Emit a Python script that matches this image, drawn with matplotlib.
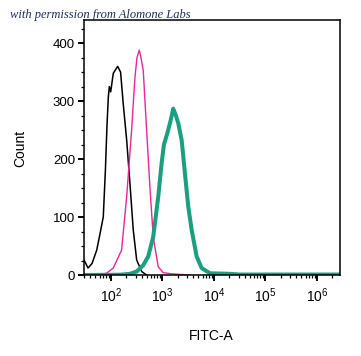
import numpy as np
import matplotlib
matplotlib.use('Agg')
import matplotlib.pyplot as plt
from matplotlib.ticker import LogLocator, NullFormatter, MultipleLocator

plt.rcParams['font.family'] = ['Liberation Sans', 'DejaVu Sans']
plt.rcParams['mathtext.fontset'] = 'custom'
plt.rcParams['mathtext.rm'] = 'Liberation Sans'
plt.rcParams['mathtext.it'] = 'Liberation Sans'

# FITC-A intensity / count pairs
black_x = [30, 36, 43, 53, 61, 71, 78, 84, 89, 93, 99, 111, 135, 154, 173,
           202, 234, 271, 316, 395, 493]
black_y = [26, 12, 20, 43, 70, 100, 180, 260, 307, 325, 316, 348, 360, 350,
           296, 233, 158, 78, 26, 6, 0]

pink_x = [30, 61, 82, 111, 161, 202, 252, 292, 320, 355, 383, 424, 493, 571,
          662, 829, 1038, 1528, 2187, 3420]
pink_y = [0, 1, 3, 12, 43, 135, 250, 340, 375, 388, 375, 353, 250, 152, 66,
          14, 4, 2, 1, 0]

teal_x = [30, 150, 234, 316, 424, 530, 662, 829, 964, 1069, 1239, 1429, 1620,
          1829, 2027, 2360, 2735, 3170, 3690, 4610, 5770, 8360, 20500, 32000,
          2.8e6]
teal_y = [0, 0.5, 2, 6, 17, 32, 66, 135, 193, 225, 244, 265, 287, 275, 262,
          233, 175, 118, 78, 32, 12, 3, 2, 0.8, 0.8]

xticks = [1e2, 1e3, 1e4, 1e5, 1e6]
xticklabels = ['$10^2$', '$10^3$', '$10^4$', '$10^5$', '$10^6$']
yticks = [0, 100, 200, 300, 400]

fig = plt.figure(figsize=(3.61, 3.56), dpi=100)
ax = fig.add_axes([84/361, 1-275/356, 256/361, 255/356])

ax.plot(black_x, black_y, color='black', lw=1.1)
ax.plot(pink_x, pink_y, color='#e8259a', lw=1.0)
ax.plot(teal_x, teal_y, color='#1aa080', lw=2.9)

ax.set_xscale('log')
ax.set_xlim(30, 2.8e6)
ax.set_ylim(0, 440)
ax.set_xticks(xticks)
ax.set_xticklabels(xticklabels, fontsize=10)
ax.xaxis.set_minor_locator(LogLocator(base=10, subs=np.arange(2, 10)))
ax.xaxis.set_minor_formatter(NullFormatter())
ax.set_yticks(yticks)
ax.yaxis.set_minor_locator(MultipleLocator(25))
ax.tick_params(axis='y', labelsize=9.5)
ax.tick_params(which='major', length=4.5, width=1.4, direction='out', pad=2)
ax.tick_params(axis='x', which='major', pad=4)
ax.tick_params(which='minor', length=2.3, width=0.9, direction='out')
for s in ax.spines.values():
    s.set_linewidth(1.1)

ax.set_xlabel('FITC-A', fontsize=10)
ax.set_ylabel('Count', fontsize=10)
ax.xaxis.set_label_coords(0.499, -0.212)
ax.yaxis.set_label_coords(-0.223, 0.498)

fig.text(10/361, 1-18/356, 'with permission from Alomone Labs',
         fontsize=9, style='italic', family='Liberation Serif', color='#1c2f5a')

fig.savefig('out.png', dpi=100)
